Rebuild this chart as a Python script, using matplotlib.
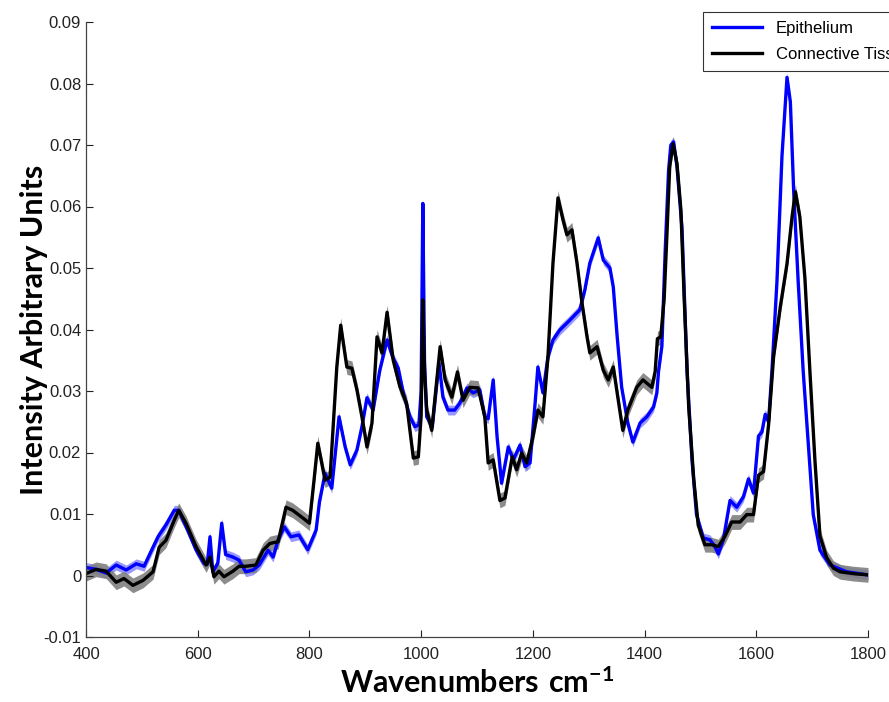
import numpy as np
import matplotlib
matplotlib.use("Agg")
import matplotlib.pyplot as plt
from matplotlib.ticker import FuncFormatter

plt.rcParams['font.family'] = ['Liberation Sans', 'DejaVu Sans']
plt.rcParams['axes.unicode_minus'] = False
plt.rcParams['mathtext.fontset'] = 'custom'
plt.rcParams['mathtext.rm'] = 'Lato'
plt.rcParams['mathtext.bf'] = 'Lato:bold'

# Espectro medio del epitelio
wn_epi = [400, 418, 436, 454, 472, 490, 504, 520, 529, 543, 558, 566, 579, 597, 611, 617,
          622, 627, 636, 643, 650, 663, 674, 686, 699, 710, 726, 735, 744, 755, 767, 781,
          797, 812, 818, 828, 840, 853, 864, 873, 885, 894, 903, 914, 926, 939, 949, 959,
          968, 980, 989, 996, 1000, 1003, 1006, 1010, 1020, 1032, 1039, 1048, 1060, 1069,
          1082, 1093, 1105, 1114, 1120, 1129, 1136, 1144, 1156, 1165, 1177, 1186, 1195,
          1204, 1209, 1218, 1227, 1236, 1248, 1266, 1284, 1293, 1302, 1317, 1326, 1338,
          1344, 1351, 1359, 1370, 1379, 1392, 1404, 1416, 1422, 1425, 1431, 1437, 1443,
          1447, 1452, 1458, 1467, 1476, 1485, 1493, 1505, 1517, 1526, 1532, 1541, 1553,
          1565, 1577, 1586, 1595, 1604, 1610, 1616, 1622, 1628, 1637, 1646, 1655, 1661,
          1667, 1675, 1684, 1693, 1702, 1714, 1732, 1762, 1800]
int_epi = [0.0013, 0.0010, 0.0004, 0.0017, 0.0009, 0.0019, 0.0015, 0.0046, 0.0063, 0.0082,
           0.0106, 0.0106, 0.0080, 0.0042, 0.0020, 0.0018, 0.0063, 0.0006, 0.0020, 0.0085,
           0.0034, 0.0030, 0.0025, 0.0006, 0.0009, 0.0017, 0.0041, 0.0030, 0.0058, 0.0079,
           0.0063, 0.0066, 0.0042, 0.0074, 0.0120, 0.0166, 0.0142, 0.0258, 0.0209, 0.0180,
           0.0204, 0.0242, 0.0289, 0.0269, 0.0334, 0.0383, 0.0355, 0.0337, 0.0297, 0.0258,
           0.0242, 0.0245, 0.0300, 0.0605, 0.0350, 0.0258, 0.0242, 0.0346, 0.0290, 0.0269,
           0.0269, 0.0280, 0.0305, 0.0297, 0.0302, 0.0258, 0.0255, 0.0318, 0.0225, 0.0150,
           0.0209, 0.0188, 0.0212, 0.0177, 0.0183, 0.0280, 0.0339, 0.0297, 0.0355, 0.0383,
           0.0399, 0.0415, 0.0432, 0.0464, 0.0508, 0.0549, 0.0513, 0.0500, 0.0469, 0.0388,
           0.0306, 0.0248, 0.0217, 0.0248, 0.0258, 0.0274, 0.0297, 0.0332, 0.0373, 0.0530,
           0.0659, 0.0700, 0.0705, 0.0665, 0.0565, 0.0332, 0.0187, 0.0099, 0.0061, 0.0058,
           0.0047, 0.0035, 0.0058, 0.0122, 0.0111, 0.0128, 0.0157, 0.0134, 0.0227, 0.0233,
           0.0262, 0.0250, 0.0332, 0.0478, 0.0682, 0.0810, 0.0770, 0.0624, 0.0478, 0.0332,
           0.0216, 0.0099, 0.0041, 0.0017, 0.0006, 0.0001]

# Espectro medio del tejido conectivo
wn_con = [400, 418, 436, 454, 468, 484, 502, 520, 531, 543, 558, 566, 579, 597, 615, 622,
          629, 638, 647, 663, 674, 686, 704, 717, 729, 744, 758, 770, 789, 800, 808, 815,
          828, 837, 849, 856, 867, 876, 885, 894, 903, 912, 921, 930, 939, 950, 962, 974,
          986, 995, 1000, 1003, 1006, 1010, 1019, 1034, 1043, 1055, 1065, 1075, 1087, 1102,
          1114, 1120, 1129, 1141, 1150, 1163, 1171, 1180, 1189, 1200, 1209, 1218, 1227,
          1236, 1245, 1254, 1261, 1270, 1279, 1288, 1297, 1302, 1315, 1326, 1335, 1344,
          1352, 1361, 1370, 1386, 1397, 1413, 1419, 1423, 1429, 1435, 1440, 1445, 1451,
          1458, 1465, 1471, 1479, 1488, 1496, 1508, 1520, 1532, 1544, 1556, 1571, 1583,
          1595, 1604, 1613, 1622, 1631, 1643, 1655, 1664, 1670, 1678, 1687, 1696, 1705,
          1714, 1726, 1738, 1750, 1774, 1800]
int_con = [0.0003, 0.0010, 0.0007, -0.0011, -0.0005, -0.0016, -0.0008, 0.0006, 0.0046,
           0.0057, 0.0090, 0.0106, 0.0085, 0.0047, 0.0017, 0.0030, -0.0002, 0.0007, -0.0002,
           0.0007, 0.0015, 0.0015, 0.0017, 0.0041, 0.0052, 0.0055, 0.0111, 0.0106, 0.0093,
           0.0085, 0.0153, 0.0215, 0.0155, 0.0160, 0.0339, 0.0407, 0.0339, 0.0337, 0.0302,
           0.0258, 0.0209, 0.0248, 0.0388, 0.0362, 0.0428, 0.0350, 0.0307, 0.0280, 0.0191,
           0.0193, 0.0260, 0.0448, 0.0330, 0.0269, 0.0236, 0.0372, 0.0318, 0.0290, 0.0331,
           0.0285, 0.0306, 0.0305, 0.0258, 0.0183, 0.0188, 0.0122, 0.0126, 0.0193, 0.0172,
           0.0199, 0.0183, 0.0225, 0.0269, 0.0258, 0.0355, 0.0508, 0.0614, 0.0578, 0.0554,
           0.0562, 0.0508, 0.0443, 0.0388, 0.0362, 0.0372, 0.0334, 0.0318, 0.0339, 0.0290,
           0.0236, 0.0269, 0.0306, 0.0318, 0.0306, 0.0332, 0.0385, 0.0388, 0.0449, 0.0554,
           0.0665, 0.0702, 0.0670, 0.0595, 0.0449, 0.0274, 0.0157, 0.0082, 0.0050, 0.0050,
           0.0047, 0.0064, 0.0087, 0.0087, 0.0099, 0.0099, 0.0163, 0.0169, 0.0245, 0.0356,
           0.0437, 0.0507, 0.0583, 0.0624, 0.0583, 0.0484, 0.0332, 0.0187, 0.0064, 0.0029,
           0.0012, 0.0006, 0.0003, 0.0001]

# Error estándar (banda sombreada) de cada espectro
err_epi = 0.0008
err_con = 0.0012

x_ticks = [400, 600, 800, 1000, 1200, 1400, 1600, 1800]
y_ticks = [-0.01, 0, 0.01, 0.02, 0.03, 0.04, 0.05, 0.06, 0.07, 0.08, 0.09]

fig = plt.figure(figsize=(8.89, 7.02), dpi=100)
ax = fig.add_axes([86 / 889, 1 - 637 / 702, (868 - 86) / 889, (637 - 22) / 702])

we, ie = np.array(wn_epi), np.array(int_epi)
wc, ic = np.array(wn_con), np.array(int_con)

ax.fill_between(we, ie - err_epi, ie + err_epi, color='#7f7fff', lw=0, alpha=0.8)
ax.fill_between(wc, ic - err_con, ic + err_con, color='#808080', lw=0, alpha=0.9)
ax.plot(we, ie, color='#0000ff', lw=2.4, label='Epithelium')
ax.plot(wc, ic, color='black', lw=2.4, label='Connective Tissue')

ax.set_xlim(400, 1800)
ax.set_ylim(-0.01, 0.09)
ax.set_xticks(x_ticks)
ax.set_yticks(y_ticks)
ax.yaxis.set_major_formatter(FuncFormatter(lambda v, p: '0' if abs(v) < 1e-9 else f'{v:.2f}'))
ax.tick_params(direction='in', length=5, width=0.8, labelsize=12, colors='#222222')
ax.tick_params(axis='x', pad=7)
for s in ['top', 'right']:
    ax.spines[s].set_visible(False)
for s in ['left', 'bottom']:
    ax.spines[s].set_color('#444444')
    ax.spines[s].set_linewidth(0.9)

ax.set_xlabel(r'$\mathbf{Wavenumbers\ cm^{-1}}$', fontsize=22)
ax.xaxis.set_label_coords(0.5, -0.052)
ax.xaxis.label.set_va('top')
ax.set_ylabel('Intensity Arbitrary Units', fontsize=22, fontweight='bold',
              family='Lato', labelpad=-3)

leg = fig.legend(loc='upper left', bbox_to_anchor=(703 / 889, 1 - 12 / 702),
                 fontsize=12, frameon=True, fancybox=False, edgecolor='black',
                 handlelength=3.0, borderpad=0.55, labelspacing=0.65, borderaxespad=0)
leg.get_frame().set_linewidth(0.8)

fig.savefig('out.png', dpi=100)
